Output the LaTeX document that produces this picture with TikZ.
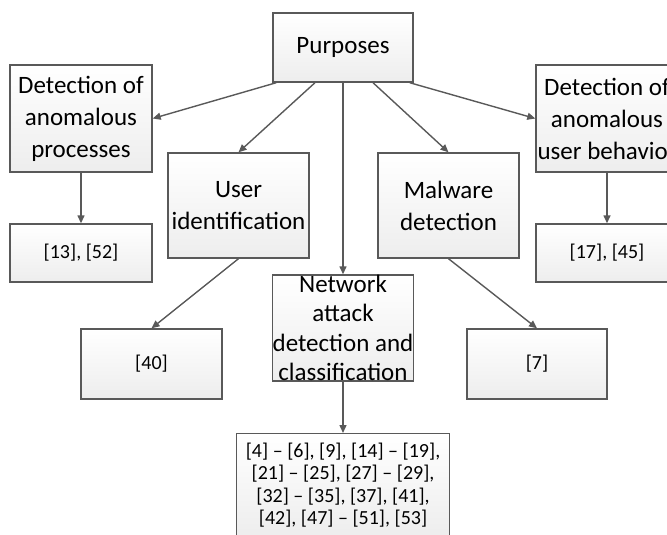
\documentclass[tikz,border=0pt]{standalone}
\usepackage{fontspec}
\setmainfont{Carlito}
\usetikzlibrary{arrows.meta}

\begin{document}
\begin{tikzpicture}[
        x=1pt, y=-1pt,
        box/.style={rectangle, draw=black!65, line width=1.4pt, top color=white, bottom color=black!7, inner sep=0pt, align=center},
        topic/.style={box, minimum width=141pt, minimum height=105pt, font=\fontsize{25}{32}\selectfont},
        refs/.style={box, minimum width=141pt, minimum height=70pt, font=\fontsize{20}{22.5}\selectfont},
        caption/.style={align=center, inner sep=0pt, font=\fontsize{25}{29.5}\selectfont},
        link/.style={draw=black!65, line width=1.4pt, -{Triangle[length=8pt,width=7pt]}}
    ]
        \clip (0,0) rectangle (667,535);

        % Root
        \node[topic, minimum width=140pt, minimum height=69pt] (purp_root) at (343,47.5) {Purposes};

        % Purposes
        \node[topic, minimum width=142pt, minimum height=107pt] (purp_proc) at (81,118.5) {Detection of\\anomalous\\processes};
        \node[topic] (purp_user) at (238.5,205.5) {User\\identification};
        \node[topic, minimum height=106pt] (purp_net) at (343,328) {};
        \node[caption] (purp_net_text) at (purp_net) {Network\\attack\\detection and\\classification};
        \node[topic] (purp_malw) at (448.5,205.5) {Malware\\detection};
        \node[topic, minimum width=142pt, minimum height=107pt] (purp_beh) at (607,118.5) {};
        \node[caption, font=\fontsize{25}{32}\selectfont] (purp_beh_text) at (purp_beh) {Detection of\\anomalous\\user behavior};

        % References
        \node[refs, minimum width=142pt, minimum height=58pt] (ref_proc) at (81,253) {[13], [52]};
        \node[refs] (ref_user) at (151.5,364) {[40]};
        \node[refs, minimum width=213pt, minimum height=103pt, anchor=north] (ref_net) at (343,433) {[4] -- [6], [9], [14] -- [19],\\ {[21] -- [25], [27] -- [29],}\\ {[32] -- [35], [37], [41],}\\ {[42], [47] -- [51], [53]}};
        \node[refs, minimum width=140pt] (ref_malw) at (537,364) {[7]};
        \node[refs, minimum width=142pt, minimum height=58pt] (ref_beh) at (607,253) {[17], [45]};

        % Edges
        \draw[link] ([xshift=4pt]purp_root.south west) -- (purp_proc.east);
        \draw[link] ([xshift=-28pt]purp_root.south) -- (purp_user.north);
        \draw[link] (purp_root.south) -- (purp_net.north);
        \draw[link] ([xshift=30pt]purp_root.south) -- (purp_malw.north);
        \draw[link] ([xshift=-4pt]purp_root.south east) -- (purp_beh.west);

        \draw[link] (purp_proc) -- (ref_proc);
        \draw[link] (purp_user.south) -- (ref_user.north);
        \draw[link] (purp_net) -- (ref_net);
        \draw[link] (purp_malw.south) -- (ref_malw.north);
        \draw[link] (purp_beh) -- (ref_beh);

\end{tikzpicture}
\end{document}
